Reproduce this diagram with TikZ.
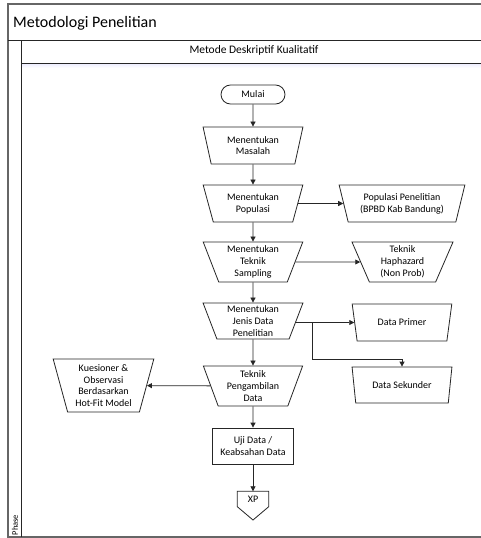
\documentclass[tikz,border=0pt]{standalone}
\usepackage{fontspec}
\setmainfont{Carlito}
\usetikzlibrary{shapes.geometric,shapes.misc,arrows.meta}
\newcommand{\nodefont}{\fontsize{10pt}{11.8pt}\selectfont}
\tikzset{
  box/.style={draw=black!85, line width=0.8pt, font=\nodefont, align=center, inner sep=0pt},
  manop/.style={box, trapezium, shape border rotate=180, trapezium stretches=true,
    trapezium angle=72, minimum width=100pt, minimum height=37pt},
  arr/.style={-{Triangle[length=5pt,width=5pt]}, line width=0.8pt, draw=black!85},
  frame/.style={draw=black!60, line width=1.4pt},
  lane/.style={draw=black!85, line width=0.9pt}
}
\begin{document}
\begin{tikzpicture}[x=1pt,y=-1pt]
\useasboundingbox (0,0) rectangle (480,538);
% frame
\fill[white] (8,4) rectangle (482,537);
\shade[top color=blue!7, bottom color=white] (21,63.5) rectangle (482,68);
\draw[frame] (482,4) -- (8,4) -- (8,537) -- (482,537);
\draw[lane] (8,40) -- (482,40);
\draw[lane] (21,40) -- (21,537);
\draw[lane] (21,63) -- (482,63);
\node[anchor=base west, font=\fontsize{16pt}{18pt}\selectfont, inner sep=0pt] (title) at (13,27.5) {Metodologi Penelitian};
\node[anchor=base, font=\fontsize{11.5pt}{13pt}\selectfont, inner sep=0pt] (lanehead) at (254,53.5) {Metode Deskriptif Kualitatif};
\node[rotate=90, anchor=west, font=\fontsize{8.5pt}{10pt}\selectfont, inner sep=0pt] (phase) at (15,535.5) {Phase};
% nodes
\node[box, rounded rectangle, minimum width=64pt, minimum height=19pt] (mulai) at (253,94.5) {Mulai};
\node[manop, trapezium angle=75] (masalah) at (253,145.5) {Menentukan\\Masalah};
\node[manop] (populasi) at (253,203.5) {Menentukan\\Populasi};
\node[manop, minimum height=40pt, trapezium angle=70] (sampling) at (253,262) {Menentukan\\Teknik\\Sampling};
\node[manop, minimum height=36pt] (jenis) at (253,321) {Menentukan\\Jenis Data\\Penelitian};
\node[manop, minimum height=40pt, trapezium angle=70] (ambil) at (253,386) {Teknik\\Pengambilan\\Data};
\node[box, rectangle, minimum width=81pt, minimum height=36pt] (uji) at (253,446) {Uji Data /\\Keabsahan Data};
\node[font=\nodefont, inner sep=0pt, minimum width=31pt, minimum height=15pt] (xp) at (253,499) {XP};
\draw[line width=0.8pt, draw=black!85] (xp.north west) -- (xp.north east) -- (xp.south east) -- (253,520) -- (xp.south west) -- cycle;
\node[manop, minimum width=126pt, trapezium angle=71] (pp) at (402,203.5) {Populasi Penelitian\\(BPBD Kab Bandung)};
\node[manop, minimum width=101pt, minimum height=40pt, trapezium angle=70] (haph) at (402.5,262) {Teknik\\Haphazard\\(Non Prob)};
\node[manop, trapezium angle=69] (primer) at (402,322.5) {Data Primer};
\node[manop, minimum height=36pt, trapezium angle=71.5] (sekunder) at (402,385) {Data Sekunder};
\node[manop, minimum width=101pt, minimum height=53pt, trapezium angle=75] (kues) at (103.5,385.5) {Kuesioner \&\\Observasi\\Berdasarkan\\Hot-Fit Model};
% connectors
\draw[arr] (mulai) -- (masalah);
\draw[arr] (masalah) -- (populasi);
\draw[arr] (populasi) -- (sampling);
\draw[arr] (sampling) -- (jenis);
\draw[arr] (jenis) -- (ambil);
\draw[arr] (ambil) -- (uji);
\draw[arr] (uji) -- (xp.north);
\draw[arr] (populasi) -- (pp);
\draw[arr] (sampling) -- (haph);
\draw[arr] (jenis.east |- primer.west) -- (primer.west);
\coordinate (br) at (312,322.5);
\coordinate (bk) at (312,359);
\draw[arr] (br) -- (bk) -| (sekunder.north);
\draw[arr] (ambil) -- (kues);
\end{tikzpicture}
\end{document}
